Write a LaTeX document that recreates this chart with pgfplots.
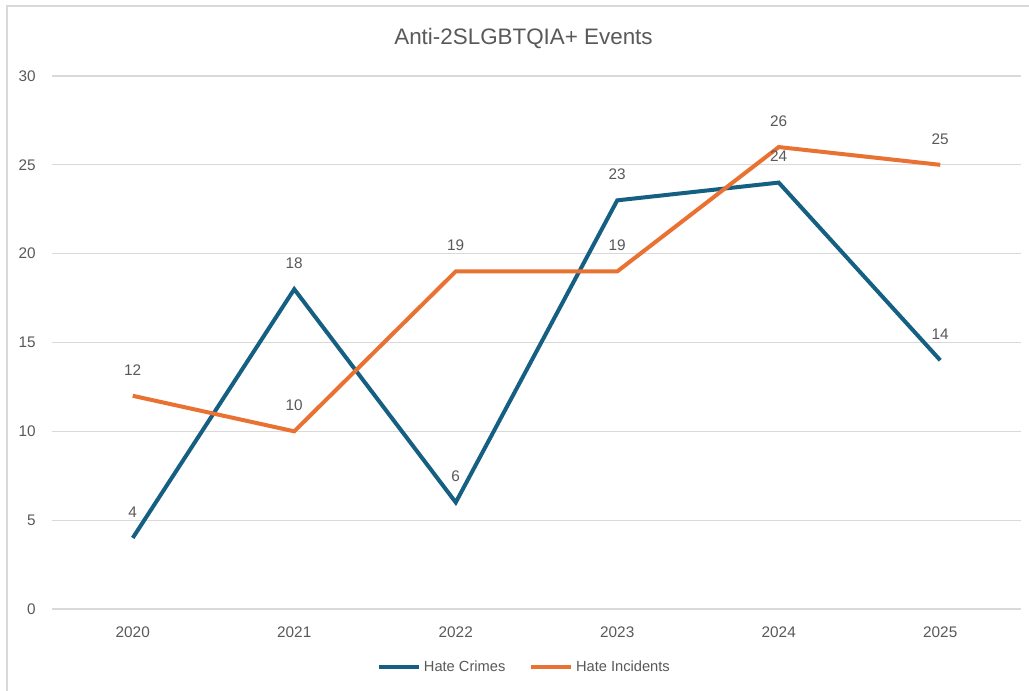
\documentclass[border=0pt]{standalone}
\usepackage{fontspec}
\setmainfont{Liberation Sans}
\usepackage{pgfplots}
\pgfplotsset{compat=1.18}
\definecolor{cblue}{HTML}{156082}
\definecolor{corange}{HTML}{E97132}
\definecolor{ctext}{HTML}{595959}
\definecolor{cgrid}{HTML}{D9D9D9}
\begin{document}
\begin{tikzpicture}
\path[use as bounding box] (-39pt,-61.5pt) rectangle (732.75pt,456.75pt);
\fill[white] (-39pt,-61.5pt) rectangle (732.75pt,456.75pt);
\draw[cgrid, line width=1.5pt] (-33.75pt,-70pt) -- (-33.75pt,452.25pt) -- (745pt,452.25pt);
\begin{axis}[
  at={(0,0)}, anchor=south west,
  scale only axis, width=726.75pt, height=399.75pt,
  clip=false,
  xmin=-0.5, xmax=5.5, ymin=0, ymax=30,
  xtick={0,1,2,3,4,5}, xticklabels={2020,2021,2022,2023,2024,2025},
  ytick={0,5,10,15,20,25,30},
  ymajorgrids, grid style={cgrid, line width=0.9pt},
  axis line style={draw=none},
  major tick length=0pt,
  tick label style={font=\fontsize{11.5}{13}\selectfont, text=ctext},
  /pgf/number format/assume math mode=true,
  yticklabel style={anchor=east, inner sep=0pt, xshift=-12pt},
  xticklabel style={anchor=north, inner sep=0pt, yshift=-13.5pt},
  title={Anti-2SLGBTQIA+ Events},
  title style={at={(0.4866,1)}, anchor=center, yshift=22pt, font=\fontsize{16.8}{20}\selectfont, text=ctext},
  legend columns=2,
  legend style={at={(0.488,-0.1088)}, anchor=center, draw=none, fill=none,
    font=\fontsize{11}{13}\selectfont, text=ctext,
    /tikz/every even column/.append style={column sep=16pt}},
  legend image code/.code={\draw[#1, line width=3pt] (0pt,0pt) -- (30pt,0pt);},
  nodes near coords,
  nodes near coords style={anchor=south, inner sep=0pt, yshift=14pt, text=ctext, font=\fontsize{11.5}{13}\selectfont},
]
\addplot[cblue, line width=3pt] coordinates {(0,4) (1,18) (2,6) (3,23) (4,24) (5,14)};
\addlegendentry{Hate Crimes}
\addplot[corange, line width=3pt] coordinates {(0,12) (1,10) (2,19) (3,19) (4,26) (5,25)};
\addlegendentry{Hate Incidents}
\end{axis}
\end{tikzpicture}
\end{document}
